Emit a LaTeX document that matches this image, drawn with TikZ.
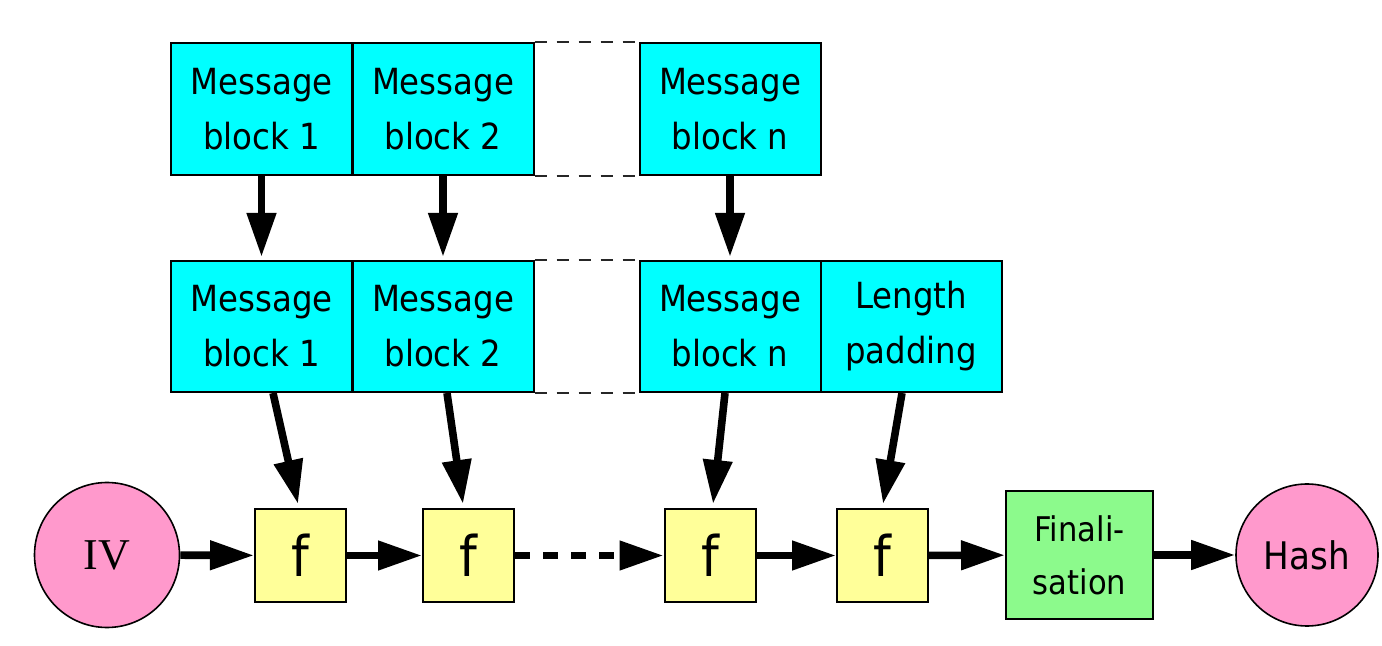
\documentclass[tikz,border=0pt]{standalone}
\usepackage{fontspec}
\setmainfont{DejaVu Sans}[FakeStretch=0.9]
\newfontfamily\ivfont{Liberation Serif}
\usetikzlibrary{arrows.meta}
\definecolor{blockcyan}{HTML}{00FFFF}
\definecolor{fyellow}{HTML}{FFFF99}
\definecolor{fingreen}{HTML}{8CFA8C}
\definecolor{endpink}{HTML}{FF99CC}
\tikzset{
  msgbox/.style={draw=black, line width=1pt, fill=blockcyan, minimum width=90.5pt, minimum height=66pt, inner sep=0pt, align=center, font=\fontsize{18}{27.5}\selectfont},
  fbox/.style={draw=black, line width=1pt, fill=fyellow, minimum width=45.5pt, minimum height=46.5pt, inner sep=0pt, font=\fontsize{28}{30}\selectfont},
  finbox/.style={draw=black, line width=1pt, fill=fingreen, minimum width=73.5pt, minimum height=63.5pt, inner sep=0pt, align=center, font=\fontsize{17}{26.5}\selectfont},
  endcirc/.style={draw=black, line width=0.8pt, fill=endpink, circle, inner sep=0pt},
  bigarrow/.style={line width=3.8pt, -{Triangle[length=22pt,width=14pt]}},
  thindash/.style={line width=1pt, dash pattern=on 6pt off 5pt, draw=black!85},
  thickdash/.style={line width=3.8pt, dash pattern=on 7.5pt off 6.5pt, -{Triangle[length=22pt,width=14pt]}}
}
\begin{document}
\begin{tikzpicture}[x=0.5pt,y=-0.5pt]
\useasboundingbox (0,0) rectangle (1382,646);
% top row
\node[msgbox] (t1) at (261.5,109) {Message\\block 1};
\node[msgbox] (t2) at (443,109) {Message\\block 2};
\node[msgbox] (tn) at (730,109) {Message\\block n};
% middle row
\node[msgbox, minimum height=65.5pt] (m1) at (261.5,326.5) {Message\\block 1};
\node[msgbox, minimum height=65.5pt] (m2) at (443,326.5) {Message\\block 2};
\node[msgbox, minimum height=65.5pt] (mn) at (730,326.5) {Message\\block n};
\node[msgbox, minimum height=65.5pt] (lp) at (911,326.5) {Length\\padding};
% bottom row
\node[endcirc, minimum size=72.5pt, font=\ivfont\fontsize{22}{22}\selectfont] (iv) at (107,555) {IV};
\node[fbox] (f1) at (300.5,555.5) {f};
\node[fbox] (f2) at (468.5,555.5) {f};
\node[fbox] (f3) at (710,555.5) {f};
\node[fbox] (f4) at (882.5,555.5) {f};
\node[finbox] (fin) at (1079.5,555) {Finali-\\sation};
\node[endcirc, minimum size=71pt, font=\fontsize{19}{19}\selectfont] (hash) at (1307,555) {Hash};
% dashed guide lines
\draw[thindash] (t2.north east) -- (tn.north west);
\draw[thindash] (t2.south east) -- (tn.south west);
\draw[thindash] (m2.north east) -- (mn.north west);
\draw[thindash] (m2.south east) -- (mn.south west);
% vertical arrows
\draw[bigarrow, shorten >=1.5pt] (t1.south) -- (m1.north);
\draw[bigarrow, shorten >=1.5pt] (t2.south) -- (m2.north);
\draw[bigarrow, shorten >=1.5pt] (tn.south) -- (mn.north);
% slanted arrows
\draw[bigarrow] ([xshift=5.75pt]m1.south) -- ([xshift=-1.25pt,yshift=2pt]f1.north);
\draw[bigarrow] ([xshift=2pt]m2.south) -- ([xshift=-2.75pt,yshift=2pt]f2.north);
\draw[bigarrow] ([xshift=-2.5pt]mn.south) -- ([xshift=1.5pt,yshift=2pt]f3.north);
\draw[bigarrow] ([xshift=-4.5pt]lp.south) -- ([xshift=0.25pt,yshift=2pt]f4.north);
% horizontal arrows
\draw[bigarrow] (iv) -- (f1);
\draw[bigarrow] (f1) -- (f2);
\draw[thickdash] (f2) -- (f3);
\draw[bigarrow] (f3) -- (f4);
\draw[bigarrow] (f4) -- (fin);
\draw[bigarrow] (fin) -- (hash);
\end{tikzpicture}
\end{document}
